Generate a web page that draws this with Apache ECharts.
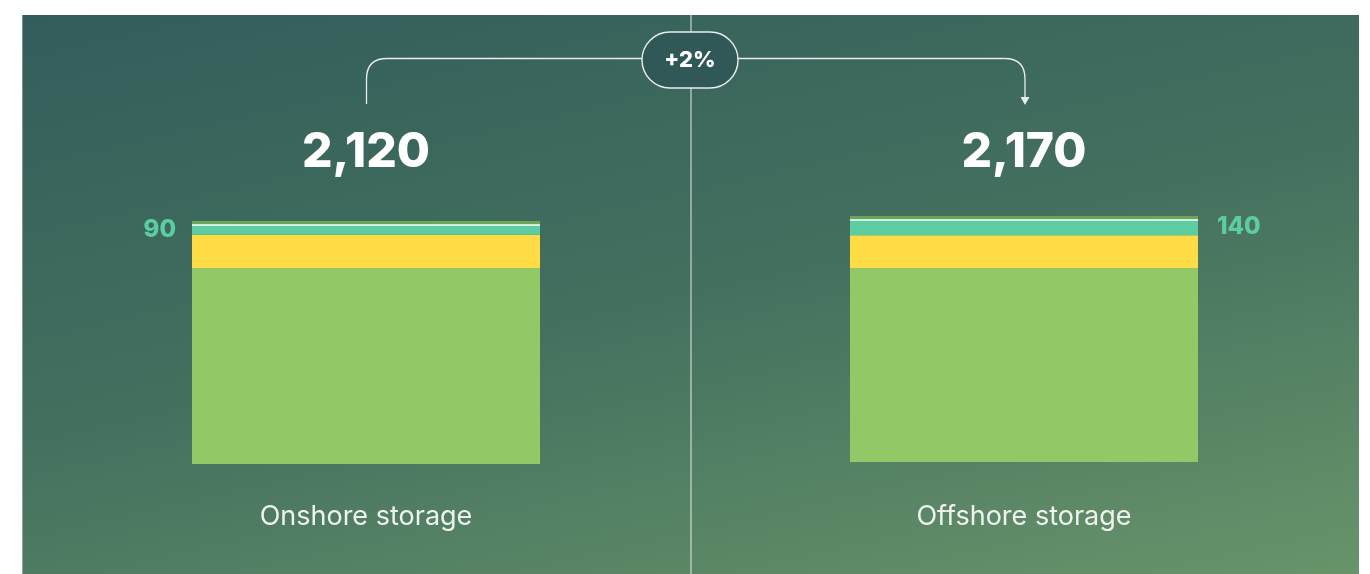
<!DOCTYPE html>
<html>
<head>
<meta charset="utf-8">
<title>Onshore vs offshore storage</title>
<script src="https://cdn.jsdelivr.net/npm/echarts@6/dist/echarts.min.js"></script>
<style>
  html, body { margin: 0; padding: 0; background: #ffffff; }
  #chart { width: 1370px; height: 574px; }
</style>
</head>
<body>
<div id="chart"></div>
<script>
// Storage categories and the stacked segments of each bar (bottom to top)
const categories = ['Onshore storage', 'Offshore storage'];
const baseSegment = [1710, 1710];
const midSegment = [290, 290];
const highlightSegment = [90, 140];
const capSegment = [30, 30];
const changeLabel = '+2%';

const totals = categories.map((_, i) =>
  baseSegment[i] + midSegment[i] + highlightSegment[i] + capSegment[i]);
const fmt = v => v.toLocaleString('en-US');

const segColors = ['#92c966', '#ffdb45', '#5ccda3', '#6aa656'];
const segData = [baseSegment, midSegment, highlightSegment, capSegment];

// one grid per bar so each bar fills its own panel
const grids = [
  { left: 192, width: 348, bottom: 110, height: 286.5 },
  { left: 850, width: 348, bottom: 112, height: 283.5 }
];
const labelMargins = [39, 41];
const highlightLabel = [
  { position: 'left', distance: 16 },
  { position: 'right', distance: 19 }
];

const xAxes = categories.map((c, i) => ({
  type: 'category', gridIndex: i, data: [c],
  axisLine: { show: false }, axisTick: { show: false },
  axisLabel: {
    margin: labelMargins[i], color: '#eef3ef', fontSize: 27,
    fontFamily: 'Inter', fontWeight: 400
  }
}));
const yAxes = categories.map((c, i) => ({
  type: 'value', gridIndex: i, min: 0, max: 2500, show: false,
  splitLine: { show: false }
}));

const series = [];
categories.forEach((c, i) => {
  segData.forEach((arr, k) => {
    const s = {
      type: 'bar', xAxisIndex: i, yAxisIndex: i, stack: 'bar' + i,
      barWidth: '100%', silent: true,
      itemStyle: { color: segColors[k] },
      data: [arr[i]]
    };
    if (k === 2) {
      s.label = {
        show: true, position: highlightLabel[i].position,
        distance: highlightLabel[i].distance,
        color: '#5ccda3', fontSize: 24, fontWeight: 800, fontFamily: 'Inter'
      };
      // thin white rule between the highlight segment and the cap
      s.markLine = {
        silent: true, symbol: 'none', animation: false,
        label: { show: false },
        lineStyle: { color: '#ffffff', width: 1.5, type: 'solid' },
        data: [{ yAxis: baseSegment[i] + midSegment[i] + highlightSegment[i] }]
      };
    }
    series.push(s);
  });
});

const centers = [366, 1024];
const lineColor = '#e8eeec';
const stroke = { stroke: lineColor, lineWidth: 1.3, fill: null };

const chart = echarts.init(document.getElementById('chart'), null, { renderer: 'canvas' });
chart.setOption({
  animation: false,
  backgroundColor: '#ffffff',
  grid: grids,
  xAxis: xAxes,
  yAxis: yAxes,
  series: series,
  graphic: [
    {
      type: 'rect', z: -100, silent: true,
      shape: { x: 22, y: 15, width: 1337, height: 559 },
      style: {
        fill: new echarts.graphic.LinearGradient(22, 15, 206, 833, [
          { offset: 0, color: '#335d5b' },
          { offset: 0.5, color: '#44705f' },
          { offset: 1, color: '#68946a' }
        ], true)
      }
    },
    {
      type: 'line', z: -90, silent: true,
      shape: { x1: 22.5, y1: 15, x2: 22.5, y2: 574 },
      style: { stroke: 'rgba(255,255,255,0.35)', lineWidth: 1 }
    },
    {
      type: 'line', z: -80, silent: true,
      shape: { x1: 691, y1: 15, x2: 691, y2: 574 },
      style: { stroke: 'rgba(255,255,255,0.85)', lineWidth: 1 }
    },
    // bracket from the left total over to the change pill
    { type: 'line', z: 50, silent: true, shape: { x1: 366.5, y1: 104, x2: 366.5, y2: 79 }, style: stroke },
    { type: 'bezierCurve', z: 50, silent: true,
      shape: { x1: 366.5, y1: 79, x2: 387, y2: 58.5, cpx1: 366.5, cpy1: 58.5 }, style: stroke },
    { type: 'line', z: 50, silent: true, shape: { x1: 387, y1: 58.5, x2: 642, y2: 58.5 }, style: stroke },
    // bracket from the pill down to the right total, ending in an arrow
    { type: 'line', z: 50, silent: true, shape: { x1: 738, y1: 58.5, x2: 1004.5, y2: 58.5 }, style: stroke },
    { type: 'bezierCurve', z: 50, silent: true,
      shape: { x1: 1004.5, y1: 58.5, x2: 1025, y2: 79, cpx1: 1025, cpy1: 58.5 }, style: stroke },
    { type: 'line', z: 50, silent: true, shape: { x1: 1025, y1: 79, x2: 1025, y2: 98 }, style: stroke },
    {
      type: 'polygon', z: 50, silent: true,
      shape: { points: [[1020.5, 97], [1029.5, 97], [1025, 105]] },
      style: { fill: lineColor }
    },
    {
      type: 'rect', z: 60, silent: true,
      shape: { x: 642, y: 32, width: 96, height: 56, r: 28 },
      style: { fill: '#2f5856', stroke: lineColor, lineWidth: 1.4 }
    },
    {
      type: 'text', z: 70, silent: true,
      x: 690, y: 60,
      style: {
        text: changeLabel, align: 'center', verticalAlign: 'middle',
        fill: '#ffffff', fontSize: 22, fontWeight: 800, fontFamily: 'Inter'
      }
    },
    ...categories.map((c, i) => ({
      type: 'text', z: 70, silent: true,
      x: centers[i], y: 153,
      style: {
        text: fmt(totals[i]), align: 'center', verticalAlign: 'middle',
        fill: '#ffffff', fontSize: 48, fontWeight: 800, fontFamily: 'Inter'
      }
    }))
  ]
});
</script>
</body>
</html>
